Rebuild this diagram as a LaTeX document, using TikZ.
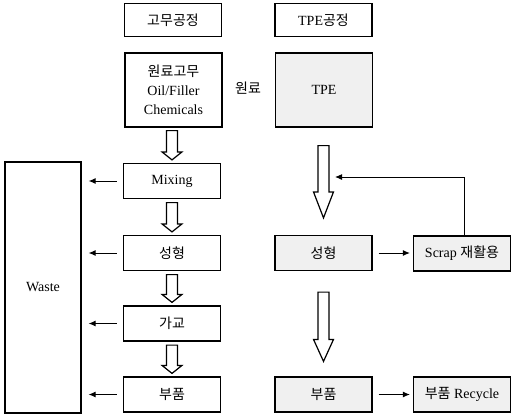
\documentclass[tikz,border=0pt]{standalone}
\usepackage{fontspec}
\setmainfont{Liberation Serif}
\newfontfamily\kr{Noto Sans CJK KR}
\usetikzlibrary{calc,arrows.meta}
\tikzset{
  box/.style={draw, line width=1.2pt, minimum width=97pt, minimum height=35pt, inner sep=0pt,
    font=\fontsize{14}{19}\selectfont, align=center},
  gbox/.style={box, fill=gray!12},
  hollow/.style={draw, fill=white, line width=1.2pt, line join=miter},
  smallarr/.style={line width=1pt, -{Latex[length=7pt,width=6pt]}}
}
\newcommand\harrow[7]{%
  \path[hollow] let \p1=($(#1.south)+(0,#3)$), \p2=($(#2.north)+(0,-#4)$) in
  (\x2-#5,\y1) -- (\x2-#5,\y2+#7) -- (\x2-#6,\y2+#7) -- (\x2,\y2) --
  (\x2+#6,\y2+#7) -- (\x2+#5,\y2+#7) -- (\x2+#5,\y1) -- cycle;}
\begin{document}
\begin{tikzpicture}[x=1pt,y=-1pt]
\useasboundingbox (0,0) rectangle (511,418);
% left column
\node[box, minimum height=33pt] (hl) at (173,20) {{\kr 고무공정}};
\node[box, minimum height=74pt] (raw) at (173.5,90) {{\kr 원료고무}\\Oil/Filler\\Chemicals};
\node[box] (mix) at (172,181) {Mixing};
\node[box] (mold) at (172,253) {{\kr 성형}};
\node[box] (cure) at (172,323.5) {{\kr 가교}};
\node[box] (part) at (172,394.5) {{\kr 부품}};
\node[box, minimum width=76pt, minimum height=251pt] (waste) at (43,287.5) {Waste};
% right column
\node[box, minimum height=33pt] (hr) at (323.5,20) {TPE{\kr 공정}};
\node[font=\fontsize{14}{15}\selectfont] (rawlbl) at (248,88) {{\kr 원료}};
\node[gbox, minimum height=74pt] (tpe) at (324,90) {TPE};
\node[gbox] (tmold) at (323.5,253) {{\kr 성형}};
\node[gbox] (tpart) at (323.5,394.5) {{\kr 부품}};
\node[gbox] (scrap) at (462,253.5) {Scrap {\kr 재활용}};
\node[gbox] (recyc) at (462,394.5) {{\kr 부품} Recycle};
\coordinate (fb) at (335,177);
% hollow arrows
\harrow{raw}{mix}{3}{3}{5.5pt}{10pt}{8pt}
\harrow{mix}{mold}{3.5}{3}{5.5pt}{10pt}{8pt}
\harrow{mold}{cure}{3.5}{3}{5.5pt}{10pt}{8pt}
\harrow{cure}{part}{3.5}{3}{5.5pt}{10pt}{8pt}
\harrow{tpe}{tmold}{18}{17}{5.5pt}{10pt}{26pt}
\harrow{tmold}{tpart}{21}{15}{5.5pt}{10pt}{22pt}
% waste arrows
\foreach \n in {mix,mold,cure,part}
  \draw[smallarr, shorten <=6pt, shorten >=7pt] (\n.west) -- (\n.west -| waste.east);
% right arrows
\draw[smallarr, shorten <=6pt, shorten >=3pt] (tmold.east) -- (tmold.east -| scrap.west);
\draw[smallarr, shorten <=6pt, shorten >=3pt] (tpart.east) -- (tpart.east -| recyc.west);
\draw[smallarr] ($(scrap.north)+(2,0)$) |- (fb);
\end{tikzpicture}
\end{document}
